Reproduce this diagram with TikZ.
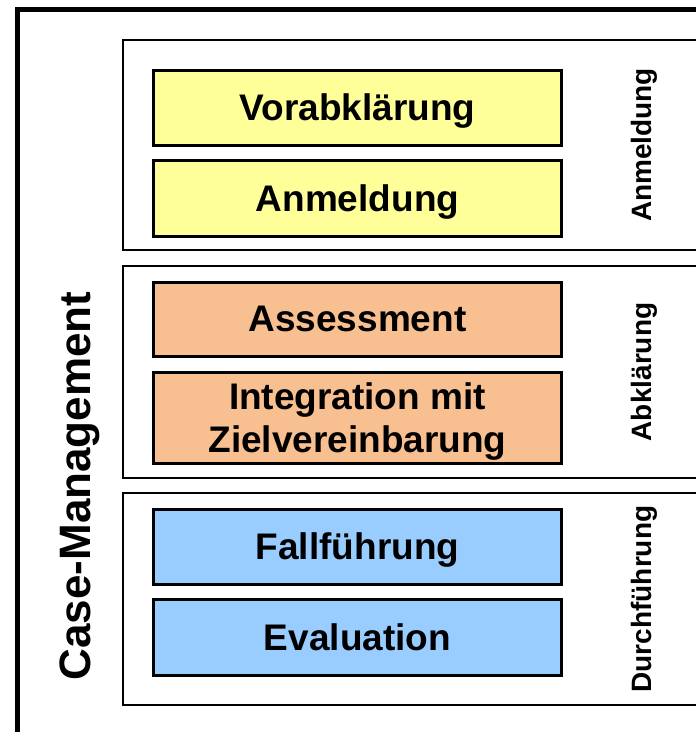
\documentclass[tikz,border=0pt]{standalone}
\usepackage{fontspec}
\setmainfont{Liberation Sans}
\usepackage{xcolor}
\usetikzlibrary{positioning}
\definecolor{gelb}{HTML}{FFFF99}
\definecolor{lachs}{HTML}{F8C090}
\definecolor{hellblau}{HTML}{99CCFF}

\begin{document}
\begin{tikzpicture}[x=1pt, y=-1pt, node distance=15pt,
    box/.style={draw, line width=3pt, minimum width=408pt, minimum height=75pt, inner sep=0pt, outer sep=0pt, text depth=0pt, align=center, font=\fontsize{37}{43}\selectfont\bfseries},
    side/.style={rotate=90, font=\fontsize{28}{30}\selectfont\bfseries}]
    \useasboundingbox (0,0) rectangle (696,732);
    \clip (0,0) rectangle (696,732);
    \draw[line width=5pt] (17,9.5) rectangle (730,760);
    \draw[line width=2.5pt] (123,40) rectangle (730,250);
    \draw[line width=2.5pt] (123,266) rectangle (730,478);
    \draw[line width=2.5pt] (123,493) rectangle (730,705);
    \node[box, fill=gelb] (vorab) at (357.5,107.5) {Vorabklärung};
    \node[box, fill=gelb, minimum height=76pt, below=of vorab] (anmeld) {Anmeldung};
    \node[box, fill=lachs, minimum height=74pt] (assess) at (357.5,319) {Assessment};
    \node[box, fill=lachs, minimum height=91pt, below=16pt of assess] (integ) {Integration mit\\Zielvereinbarung};
    \node[box, fill=hellblau] (fall) at (357.5,546.5) {Fallführung};
    \node[box, fill=hellblau, minimum height=76pt, below=of fall] (eval) {Evaluation};
    \node[side] (s1) at (644,145) {Anmeldung};
    \node[side] (s2) at (644,372) {Abklärung};
    \node[side] (s3) at (644,599) {Durchführung};
    \node[rotate=90, anchor=base, font=\fontsize{44}{48}\selectfont\bfseries] (cm) at (90,486) {Case-Management};
\end{tikzpicture}
\end{document}
